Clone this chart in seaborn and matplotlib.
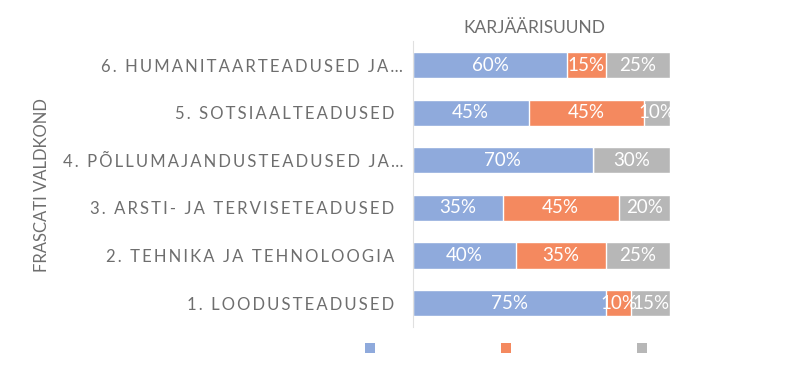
import seaborn as sns
import pandas as pd
import matplotlib.pyplot as plt
import matplotlib
from matplotlib.patches import Patch

sns.set_style('white')
plt.rcParams['font.family'] = ['Lato', 'DejaVu Sans']

categories = ['1. LOODUSTEADUSED',
              '2. TEHNIKA JA TEHNOLOOGIA',
              '3. ARSTI- JA TERVISETEADUSED',
              '4. PÕLLUMAJANDUSTEADUSED JA…',
              '5. SOTSIAALTEADUSED',
              '6. HUMANITAARTEADUSED JA…']
blue_vals = [75, 40, 35, 70, 45, 60]
orange_vals = [10, 35, 45, 0, 45, 15]
gray_vals = [15, 25, 20, 30, 10, 25]

colors = ["#8FAADC", "#F4895F", "#B7B7B7"]
text_gray = "#6E6E6E"


def spaced(s):
    out = '\u2009'.join(s)
    # full labels sit a little left of the truncated ones
    if not s.endswith('…'):
        out += '\u2009\u2009\u2009\u2009'
    return out


def plot_karjaar():
    fig = plt.figure(figsize=(8, 3.75), dpi=100)
    ax = fig.add_axes([0.516, 0.1285, 0.3215, 0.7616])

    order = categories[::-1]
    df = pd.DataFrame({'cat': categories, 'blue': blue_vals,
                       'orange': orange_vals, 'gray': gray_vals})
    df['c1'] = df['blue']
    df['c2'] = df['blue'] + df['orange']
    df['c3'] = df['c2'] + df['gray']

    for col, color in zip(['c3', 'c2', 'c1'], colors[::-1]):
        sns.barplot(data=df, y='cat', x=col, order=order, orient='h',
                    color=color, width=0.55, saturation=1, ax=ax)

    # segment labels
    for i, cat in enumerate(order):
        row = df[df['cat'] == cat].iloc[0]
        left = 0
        for key in ['blue', 'orange', 'gray']:
            v = row[key]
            if v > 0:
                ax.text(left + v / 2, i, f'{v}%', ha='center', va='center',
                        color='white', fontsize=13.5)
            left += v

    ax.set_xlim(0, 100)
    ax.set_ylim(5.5, -0.5)
    ax.set_xticks([])
    ax.set_xlabel('')
    ax.set_ylabel('')
    ax.set_yticks(range(len(order)))
    ax.set_yticklabels([spaced(c) for c in order], color=text_gray, fontsize=12)
    ax.tick_params(axis='y', length=0, pad=7)
    for s in ['top', 'right', 'bottom']:
        ax.spines[s].set_visible(False)
    ax.spines['left'].set_color('#E0E0E0')
    ax.spines['left'].set_linewidth(0.8)

    fig.text(0.668, 0.925, 'KARJÄÄRISUUND', ha='center', va='center',
             color=text_gray, fontsize=12.5)
    fig.text(0.053, 0.507, 'FRASCATI VALDKOND', ha='center', va='center',
             rotation=90, color=text_gray, fontsize=12)

    handles = [Patch(facecolor=c, edgecolor='none') for c in colors]
    fig.legend(handles, ['', '', ''], loc='center', bbox_to_anchor=(0.6325, 0.069),
               ncol=3, frameon=False, fontsize=10, handlelength=0.75,
               handleheight=0.75, handletextpad=0, columnspacing=9.05)

    fig.savefig('out.png', dpi=100)


plot_karjaar()
